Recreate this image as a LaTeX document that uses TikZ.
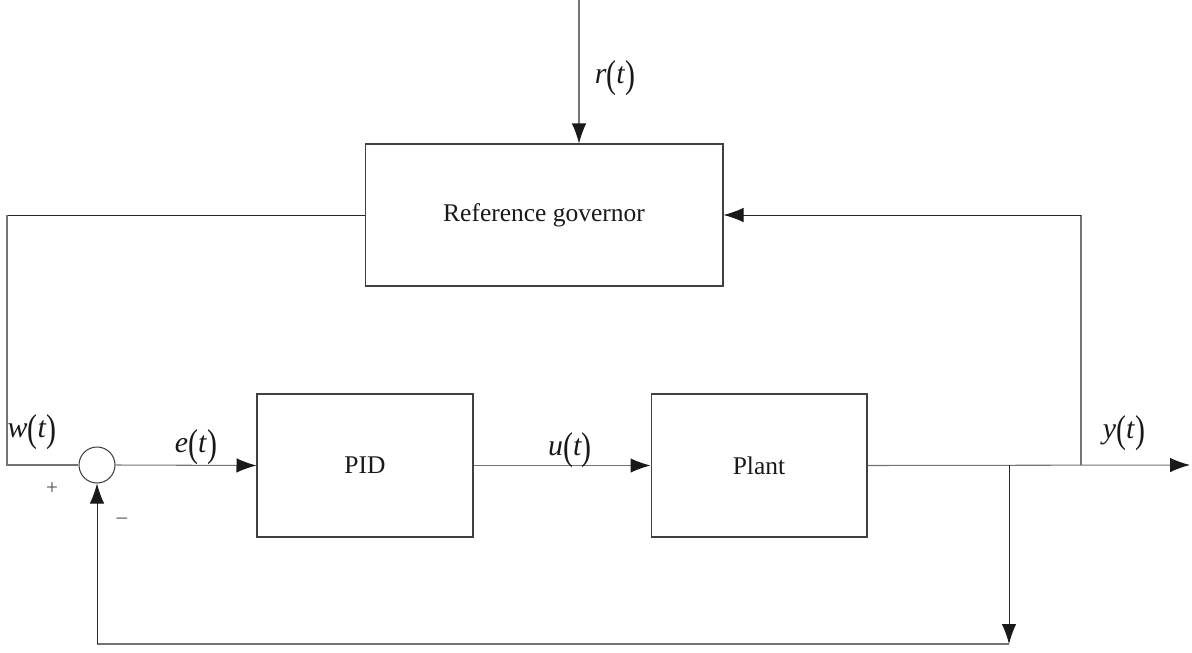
\documentclass[tikz,border=0pt]{standalone}
\usepackage{fontspec}
\setmainfont{Liberation Serif}
\usetikzlibrary{arrows.meta}

\newcommand\sigpar[2]{\textit{#1}\raisebox{-0.12em}{\scalebox{1}[1.3]{(}}\textit{#2}\raisebox{-0.12em}{\scalebox{1}[1.3]{)}}}

\begin{document}
\begin{tikzpicture}[x=0.02cm, y=-0.02cm,
			block/.style={
				draw = black!75,
				line width = 0.6pt,
				inner sep = 0pt,
				font = \fontsize{14.5}{17}\selectfont,
				text = black!90},
			wire/.style={
				draw = black!55,
				line width = 0.6pt},
			darkwire/.style={
				draw = black!85,
				line width = 0.5pt},
			tip/.style={
				-{Latex[length=0.4cm, width=0.29cm, color=black!90]}},
			signal/.style={
				font = \fontsize{17}{20}\selectfont,
				inner sep = 0pt,
				text = black!90},
			sign/.style={
				font = \fontsize{12}{14}\selectfont,
				inner sep = 0pt,
				text = black!70}]
			\useasboundingbox (0, 0) rectangle (1192, 652);
			% blocks
			\node (gov) at (544, 215) [block, minimum width = 7.16cm, minimum height = 2.84cm] {Reference governor};
			\node (pid) at (365, 465.5) [block, minimum width = 4.32cm, minimum height = 2.86cm] {PID};
			\node (plant) at (759, 465.5) [block, minimum width = 4.32cm, minimum height = 2.86cm] {Plant};
			\node (sum) at (97, 465) [circle, draw = black!75, line width = 0.6pt, minimum size = 0.72cm, inner sep = 0pt] {};
			% corners of the wires
			\coordinate (rin) at (579, 0);
			\coordinate (wtop) at (7, 215);
			\coordinate (wlow) at (7, 465);
			\coordinate (yend) at (1190, 465);
			\coordinate (ybranch) at (1081, 465);
			\coordinate (dbranch) at (1009, 465);
			\coordinate (dend) at (1009, 644);
			\coordinate (fcorner) at (97, 644);
			% wires
			\draw[wire, tip] (rin) -- (rin |- gov.north);
			\draw[darkwire] (gov.west) -- (wtop);
			\draw[wire] (wtop) -- (wlow) -- (sum.west);
			\draw[wire, tip] (sum.east) -- (pid.west);
			\draw[wire, tip] (pid.east) -- (plant.west);
			\draw[wire, tip] (plant.east) -- (yend);
			\draw[wire] (ybranch) -- (ybranch |- gov.east);
			\draw[darkwire, tip] (ybranch |- gov.east) -- (gov.east);
			\draw[darkwire, tip] (dbranch) -- (dend);
			\draw[wire] (dend) -- (fcorner);
			\draw[darkwire, tip] (fcorner) -- (sum.south);
			% labels
			\node (rlab) at (615, 78) [signal] {\sigpar{r}{t}};
			\node (wlab) at (32, 432) [signal] {\sigpar{w}{t}};
			\node (elab) at (196, 447) [signal] {\sigpar{e}{t}};
			\node (ulab) at (570, 450) [signal] {\sigpar{u}{t}};
			\node (ylab) at (1124, 433) [signal] {\sigpar{y}{t}};
			\node (plus) at (52, 489) [sign] {+};
			\node (minus) at (122, 521) [sign] {\textendash};
			\end{tikzpicture}
\end{document}
